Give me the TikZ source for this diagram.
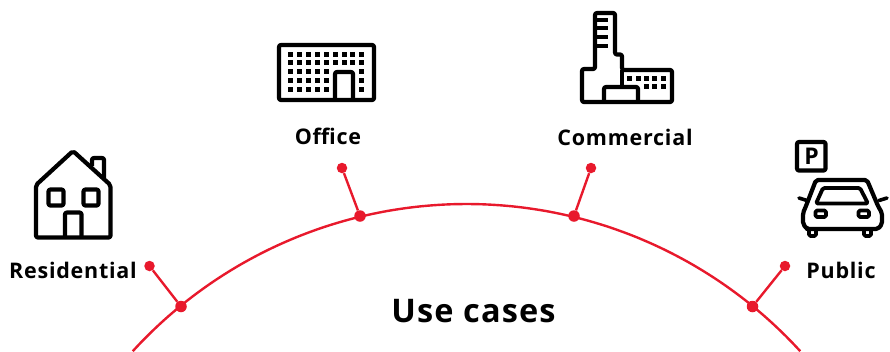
\documentclass[tikz,border=0pt]{standalone}
\usepackage{fontspec}
\setmainfont[LetterSpace=3.5]{Open Sans}
\definecolor{abbred}{HTML}{E8192C}
\definecolor{icon}{HTML}{000000}
\tikzset{
  x=1pt,y=-1pt,
  redline/.style={draw=abbred,line width=2.4pt},
  reddot/.style={circle,fill=abbred,inner sep=0pt,minimum size=10.5pt},
  bigdot/.style={circle,fill=abbred,inner sep=0pt,minimum size=11.5pt},
  lab/.style={font=\fontsize{21.5}{24}\selectfont\bfseries,text=black,inner sep=0pt},
  ico/.style={draw=icon,line width=4.2pt,line join=round,rounded corners=2pt,fill=none},
  thin/.style={draw=icon,line width=3.8pt,line join=round,rounded corners=1.5pt,fill=none}
}
\newcommand{\sq}[2]{\fill[icon] (#1-2.5,#2-2.5) rectangle (#1+2.5,#2+2.5);}
\begin{document}
\begin{tikzpicture}
\useasboundingbox (0,0) rectangle (890,351);
% arc
\draw[redline] plot[domain=137.6:42.4,samples=120,smooth] ({466.5+452*cos(\x)},{656-452*sin(\x)});
% dots
\node[bigdot] (j1) at (181,306.5) {};
\node[bigdot] (j2) at (360,216) {};
\node[bigdot] (j3) at (574,216) {};
\node[bigdot] (j4) at (752.5,306.5) {};
\node[reddot] (o1) at (149.5,266) {};
\node[reddot] (o2) at (342,168) {};
\node[reddot] (o3) at (591,168) {};
\node[reddot] (o4) at (785,266) {};
\draw[redline] (j1) -- (o1);
\draw[redline] (j2) -- (o2);
\draw[redline] (j3) -- (o3);
\draw[redline] (j4) -- (o4);
% labels
\node[lab] (t1) at (73,270) {Residential};
\node[lab] (t2) at (328,136) {Office};
\node[lab] (t3) at (625,137) {Commercial};
\node[lab] (t4) at (841,270) {Public};
\node[font=\fontsize{32.5}{36}\selectfont\bfseries,inner sep=0pt] (t5) at (473.5,311) {Use cases};
% house
\draw[ico] (36,237.5) -- (36,185) -- (73,151) -- (110.5,185) -- (110.5,237.5) -- cycle;
\draw[ico] (92,166) -- (92,158) -- (104,158) -- (104,178);
\draw[ico] (48.5,189.5) rectangle (63.5,205.5);
\draw[ico] (83.5,189.5) rectangle (98.5,205.5);
\draw[ico] (65,237.5) -- (65,212.5) -- (81.5,212.5) -- (81.5,237.5);
% office
\draw[ico] (279,45) rectangle (374,100);
\draw[ico] (335,100) -- (335,72) -- (353,72) -- (353,100);
\foreach \px in {290.7,299.3,308.3,317.3,326,335,344,352.7,361.7}{\sq{\px}{54}\sq{\px}{62.7}}
\foreach \py in {71.7,80,89}{\foreach \px in {290.7,299.3,308.3,317.3,326,361.7}{\sq{\px}{\py}}}
% commercial
\draw[ico] (595,13) -- (615,13) -- (615,54.5) -- (622,54.5) -- (622,70) -- (672,70) -- (672,102) -- (582,102) -- (582,69) -- (595,69) -- cycle;
\draw[ico] (622,70) -- (622,86);
\draw[ico] (604,102) -- (604,87) -- (638,87) -- (638,102);
\foreach \ry in {20,28,37,46}{\draw[icon,line width=3.6pt] (595,\ry) -- (608,\ry);}
\foreach \px in {629,638,646,654,663}{\sq{\px}{78}}
\foreach \px in {646,654,663}{\sq{\px}{86}}
% parking
\draw[ico] (797,142) rectangle (825.5,170.5);
\node[font=\fontsize{23}{24}\selectfont\bfseries,inner sep=0pt] (pk) at (811.5,156) {P};
% car
\draw[ico] (809,229) -- (807,229) -- (803,224) -- (803,213) -- (806,206) -- (816,180) -- (867,180) -- (878,206) -- (882,213) -- (882,224) -- (878,229) -- cycle;
\draw[thin] (823,188) -- (860,188) -- (868,203.5) -- (816,203.5) -- cycle;
\draw[thin] (815.5,210.5) rectangle (826,217);
\draw[thin] (858.5,210.5) rectangle (869,217);
\draw[thin] (809,230) -- (809,236) -- (816,236) -- (816,230);
\draw[thin] (864,230) -- (864,236) -- (871,236) -- (871,230);
\draw[icon,line width=3.6pt,line cap=round] (799,198) -- (807,200.5);
\draw[icon,line width=3.6pt,line cap=round] (887,198) -- (879,200.5);
\end{tikzpicture}
\end{document}
